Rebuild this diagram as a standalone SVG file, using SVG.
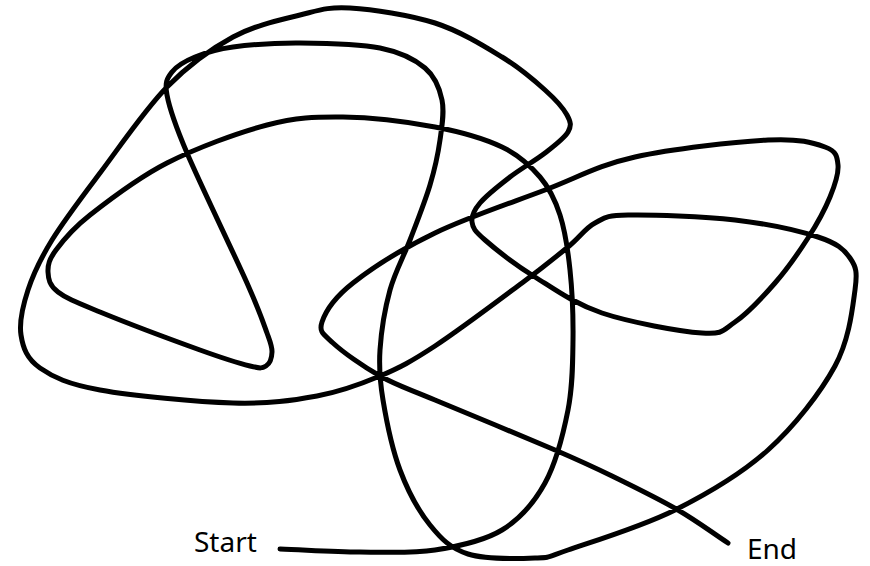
<svg xmlns="http://www.w3.org/2000/svg" width="870" height="566" viewBox="0 0 870 566">
<style>
.line{fill:none;stroke:#000;stroke-width:5;stroke-linecap:round;stroke-linejoin:round}
.lbl{font-family:"Noto Sans","Open Sans","Liberation Sans",sans-serif;font-size:28px;fill:#000}
</style>
<rect width="870" height="566" fill="#fff"/>
<g id="connectors">
<path class="line" d="M280,549 C306.7,550 334.2,551.8 360,552
S411.3,553.7 435,550 S483.7,541.2 502,530 S534,503 545,483 S563.3,433.8 568,410 S572.7,363.3 573,340
S572.2,290.8 570,270 S565,230.5 560,215 S549.7,188.3 540,177 S519.5,155.3 502,147 S461.5,132 435,127
S371,117.3 343,117 S296.3,117.3 267,125 S196.5,148 167,163 S108.5,200.5 90,215 S63,240.5 56,250
S47.7,265 48,272 S49.3,285.3 58,292 S76.3,302.3 100,312 S175,341 200,350 S239,363.3 250,366
S262.3,368.3 266,366 S271.8,357.5 272,352 S271.2,344.5 267,333 S260.3,313 247,283 S200.3,184.3 187,153
S169.5,108.5 167,95 S167.3,78.3 172,72 S184.8,61.2 195,57 S215.5,49.3 233,47 S275.5,42.8 300,43
S359.2,43.8 380,48 S414.7,59.3 425,68 S439.5,88 442,100 S442,125.8 440,140 S435,168.3 430,185
S416.7,222.5 410,240 S395,271.7 390,290 S381.2,331.7 380,350 S379.7,380 383,400 S392.2,449.2 400,470
S418.7,511 430,525 S450.5,548.5 468,554 S518.3,558.7 535,558 S544.7,558 568,550 S641.7,526.7 675,510
S741.3,474 768,450 S820.5,392.7 835,366 S852.5,308 855,290 S856.2,266.8 850,258 S837.2,243.3 818,237
S766.7,223.7 735,220 S651.3,214.5 628,215 S605,217.7 595,223 S580.2,237 568,247 S544.2,266.5 522,283
S458.7,330.5 435,346 S399.7,367.7 380,376 S341.5,391.5 317,396 S269.2,404 233,403 S132.2,395.8 100,390
S53.2,377.2 40,368 S23,348 21,335 S22.8,305.8 28,290 S40,259.5 52,240 S80.8,198.5 100,173
S144.8,109.7 167,87 S210.8,49 233,37 S280.5,19.8 300,15 S327.5,6.7 350,8 S409.7,14.8 435,23
S483.7,45.8 502,57 S534.2,80.3 545,90 S563.2,108 567,115 S571.7,125.7 568,132 S554.7,145.5 545,153
S520.8,168.7 510,177 S486.3,195.5 480,203 S471.2,215.8 472,222 S474.5,230.8 485,240 S515.5,264.8 535,277
S574.2,303.7 602,313 S679.8,331.5 702,333 S722.8,330.3 735,322 S762.8,297 775,283 S798.8,252.3 808,238
S825,209.2 830,197 S838.8,173.3 838,165 S836.7,151.2 825,147 S799.7,138.3 768,140 S672.2,148.7 635,157
S578.3,177.3 545,190 S467,217.5 435,233 S371.8,268.2 353,283 S325.3,312 322,322 S323.3,334 333,343
S363,366.5 380,376 S405.8,387.7 435,400 S525.5,437.3 555,450 S591.5,466 612,476 S658.7,498.8 678,510
S711.3,532 728,543"/>
</g>
<g id="start"><text class="lbl" x="194" y="552">Start</text></g>
<g id="end"><text class="lbl" x="747" y="559">End</text></g>
</svg>
